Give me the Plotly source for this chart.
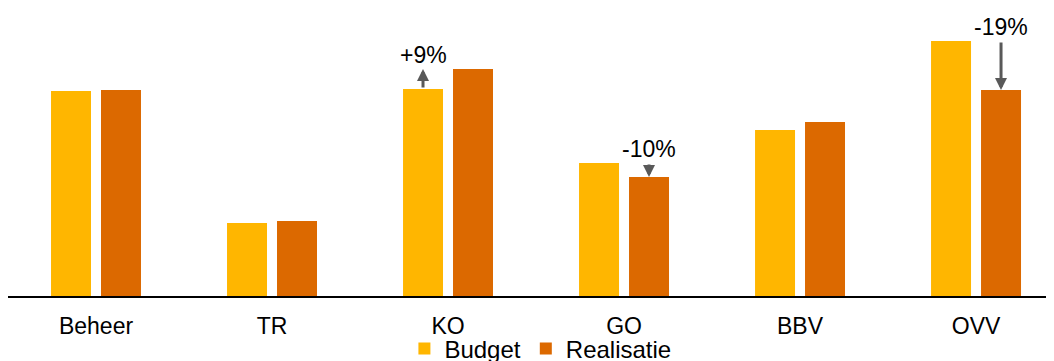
import plotly.graph_objects as go

categories = ["Beheer", "TR", "KO", "GO", "BBV", "OVV"]
budget = [205, 73, 207, 133, 166, 255]
realisatie = [206, 75, 227, 119, 174, 206]

# variance annotations: category, label
var_cats = ["KO", "GO", "OVV"]
var_labels = ["+9%", "-10%", "-19%"]

C_BUDGET = "#FFB600"
C_REAL = "#DC6900"
FONT = "Liberation Sans, Arial, sans-serif"

xs = list(range(len(categories)))
off = 25 / 176

fig = go.Figure()
fig.add_trace(go.Bar(x=xs, y=budget, name="Budget", marker_color=C_BUDGET,
                     marker_line_width=0))
fig.add_trace(go.Bar(x=xs, y=realisatie, name="Realisatie", marker_color=C_REAL,
                     marker_line_width=0))

for cat, lab in zip(var_cats, var_labels):
    i = categories.index(cat)
    b, r = budget[i], realisatie[i]
    # arrow sits on the lower bar
    xa = i - off if r > b else i + off
    fig.add_annotation(x=xa, y=r, ax=xa, ay=b, xref="x", yref="y",
                       axref="x", ayref="y", text="", showarrow=True,
                       arrowhead=2, arrowsize=0.8, arrowwidth=3,
                       arrowcolor="#595959", standoff=0, startstandoff=0)
    fig.add_annotation(x=xa, y=max(b, r) - 1, xref="x", yref="y", text=lab,
                       showarrow=False, yanchor="bottom",
                       font=dict(size=23, color="#000000", family=FONT))

fig.update_layout(
    width=1046, height=353,
    margin=dict(l=0, r=0, t=0, b=65, autoexpand=False),
    plot_bgcolor="white", paper_bgcolor="white",
    barmode="group", bargap=0.432, bargroupgap=0.2,
    font=dict(family=FONT, size=23, color="#000000"),
    showlegend=True,
    legend=dict(orientation="h", x=0.509, xanchor="center",
                yref="container", y=0.034, yanchor="middle",
                bgcolor="rgba(0,0,0,0)",
                font=dict(size=24), itemwidth=30, tracegroupgap=0),
    xaxis=dict(tickmode="array", tickvals=xs, ticktext=categories,
               range=[-0.5, 5.443], showline=True, linecolor="#000000",
               linewidth=2, ticks="", showgrid=False, zeroline=False,
               automargin=False, ticklabelstandoff=8,
               tickfont=dict(size=23)),
    yaxis=dict(range=[0, 288], visible=False, showgrid=False, zeroline=False,
               automargin=False),
)

fig.write_html("out.html")
